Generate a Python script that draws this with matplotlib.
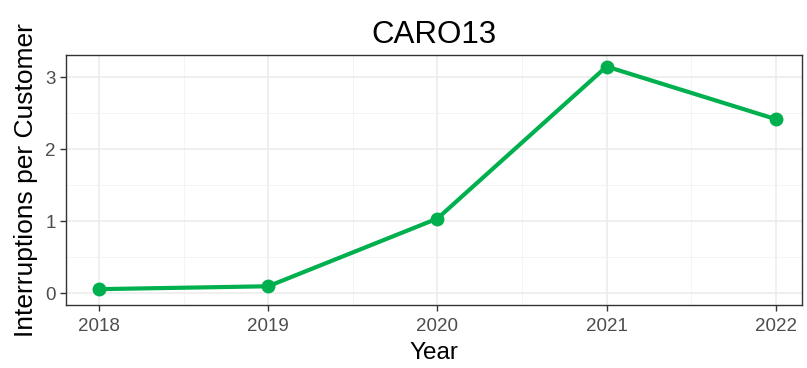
import matplotlib
matplotlib.use('Agg')
import matplotlib.pyplot as plt
from matplotlib.ticker import MultipleLocator

# data
years = [2018, 2019, 2020, 2021, 2022]
interruptions = [0.06, 0.10, 1.04, 3.15, 2.42]

plt.rcParams['font.family'] = ['Liberation Sans', 'DejaVu Sans']

fig = plt.figure(figsize=(8.07, 3.68), dpi=100)
ax = fig.add_axes([0.0818, 0.1712, 0.912, 0.6793])

ax.plot(years, interruptions, color='#00B04F', linewidth=3, zorder=3,
        marker='o', markersize=9, solid_capstyle='round')

ax.set_xlim(2017.805, 2022.155)
ax.set_ylim(-0.16, 3.31)
ax.set_xticks(years)
ax.set_xticklabels([str(y) for y in years])
ax.xaxis.set_minor_locator(MultipleLocator(0.5))
ax.yaxis.set_major_locator(MultipleLocator(1))
ax.yaxis.set_minor_locator(MultipleLocator(0.5))

ax.grid(which='major', color='#EBEBEB', linewidth=1.1, zorder=0)
ax.grid(which='minor', color='#F2F2F2', linewidth=0.6, zorder=0)
ax.set_axisbelow(True)

for s in ax.spines.values():
    s.set_color('#333333')
    s.set_linewidth(1.0)

ax.tick_params(which='major', length=4.5, width=1, color='#333333',
               labelsize=13.5, labelcolor='#4D4D4D', pad=3)
ax.tick_params(axis='x', which='major', pad=5)
ax.tick_params(which='minor', length=0)

ax.set_xlabel('Year', fontsize=17.5, color='black', labelpad=5)
ax.set_ylabel('Interruptions per Customer', fontsize=19, color='black', labelpad=5)
ax.set_title('CARO13', fontsize=22.5, color='black', pad=9)

fig.savefig('out.png', dpi=100)
